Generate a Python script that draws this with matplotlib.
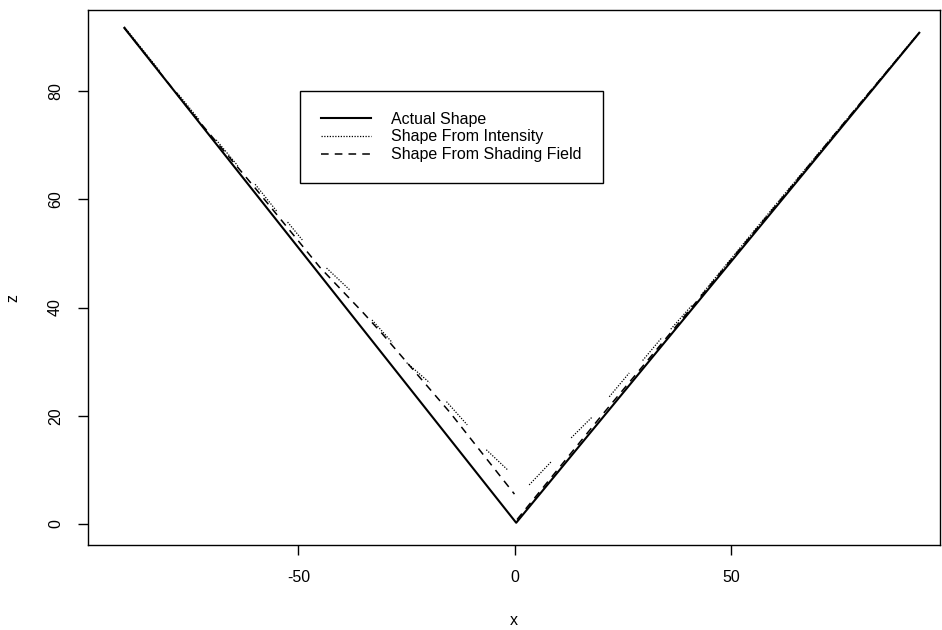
import numpy as np
import matplotlib
matplotlib.use("Agg")
import matplotlib.pyplot as plt

plt.rcParams['font.family'] = ['Liberation Sans', 'DejaVu Sans']

nan = np.nan

# Actual shape: a V-shaped profile
actual_x = [-90.2, 0.3, 93.4]
actual_z = [91.7, 0.2, 90.8]

# Shape recovered from the shading field (left and right branches)
shading_x = [-90.2, -75.0, -60.0, -45.0, -35.0, -30.8, -15.0, -0.1, nan,
             0.5, 20.0, 40.0, 60.0, 80.0, 93.4]
shading_z = [91.7, 76.4, 62.1, 47.4, 39.0, 35.3, 20.6, 5.5, nan,
             0.8, 20.0, 39.2, 58.6, 78.0, 90.8]

# Shape recovered from intensity: short patches with gaps between them
intensity_x = [-90.2, -82.0, nan, -78.0, -73.0, nan, -69.0, -64.0, nan,
               -60.0, -55.0, nan, -52.5, -49.1, nan, -43.5, -38.2, nan,
               -33.0, -28.3, nan, -25.0, -19.7, nan, -15.8, -11.0, nan,
               -6.6, -1.7, nan, 3.3, 8.4, nan, 13.0, 17.9, nan,
               21.8, 26.4, nan, 29.5, 34.0, nan, 36.0, 41.0, nan,
               43.0, 60.0, 75.0, 93.4]
intensity_z = [91.9, 83.7, nan, 79.7, 74.8, nan, 71.0, 66.2, nan,
               62.8, 57.8, nan, 55.8, 52.5, nan, 47.3, 43.3, nan,
               37.7, 33.5, nan, 29.8, 26.1, nan, 22.6, 18.3, nan,
               13.7, 10.0, nan, 7.2, 11.5, nan, 15.9, 19.8, nan,
               23.5, 27.9, nan, 30.2, 34.5, nan, 36.0, 40.5, nan,
               42.3, 58.8, 73.2, 90.9]

x_ticks = [-50, 0, 50]
x_tick_labels = ['-50', '0', '50']
z_ticks = [0, 20, 40, 60, 80]
z_tick_labels = ['0', '20', '40', '60', '80']

fig = plt.figure(figsize=(9.42, 6.30), dpi=100)
ax = fig.add_axes([0.0934, 0.135, 0.905, 0.849])

ax.plot(actual_x, actual_z, color='black', lw=1.5, ls='-', label='Actual Shape')
ax.plot(intensity_x, intensity_z, color='black', lw=0.9, ls=(0, (1, 1.2)),
        label='Shape From Intensity')
ax.plot(shading_x, shading_z, color='black', lw=1.1, ls=(0, (5, 4)),
        label='Shape From Shading Field')

ax.set_xlim(-98.6, 98.3)
ax.set_ylim(-3.9, 95.0)
ax.set_xticks(x_ticks)
ax.set_xticklabels(x_tick_labels)
ax.set_yticks(z_ticks)
ax.set_yticklabels(z_tick_labels, rotation=90, va='center')
ax.tick_params(direction='out', length=7, width=1, pad=11, labelsize=11.5,
               color='black')
for s in ax.spines.values():
    s.set_linewidth(1.0)
    s.set_color('black')

ax.set_xlabel('x', fontsize=11.5, labelpad=20)
ax.set_ylabel('z', fontsize=11.5)
ax.yaxis.set_label_coords(-0.079, 0.462)

leg = ax.legend(loc='upper left', bbox_to_anchor=(0.249, 0.849),
                frameon=True, fancybox=False, edgecolor='black',
                framealpha=1, fontsize=11.5, handlelength=3.1,
                handletextpad=1.3, borderpad=1.3, labelspacing=0.18,
                borderaxespad=0)
leg.get_frame().set_linewidth(1.0)

fig.savefig('out.png', dpi=100)
